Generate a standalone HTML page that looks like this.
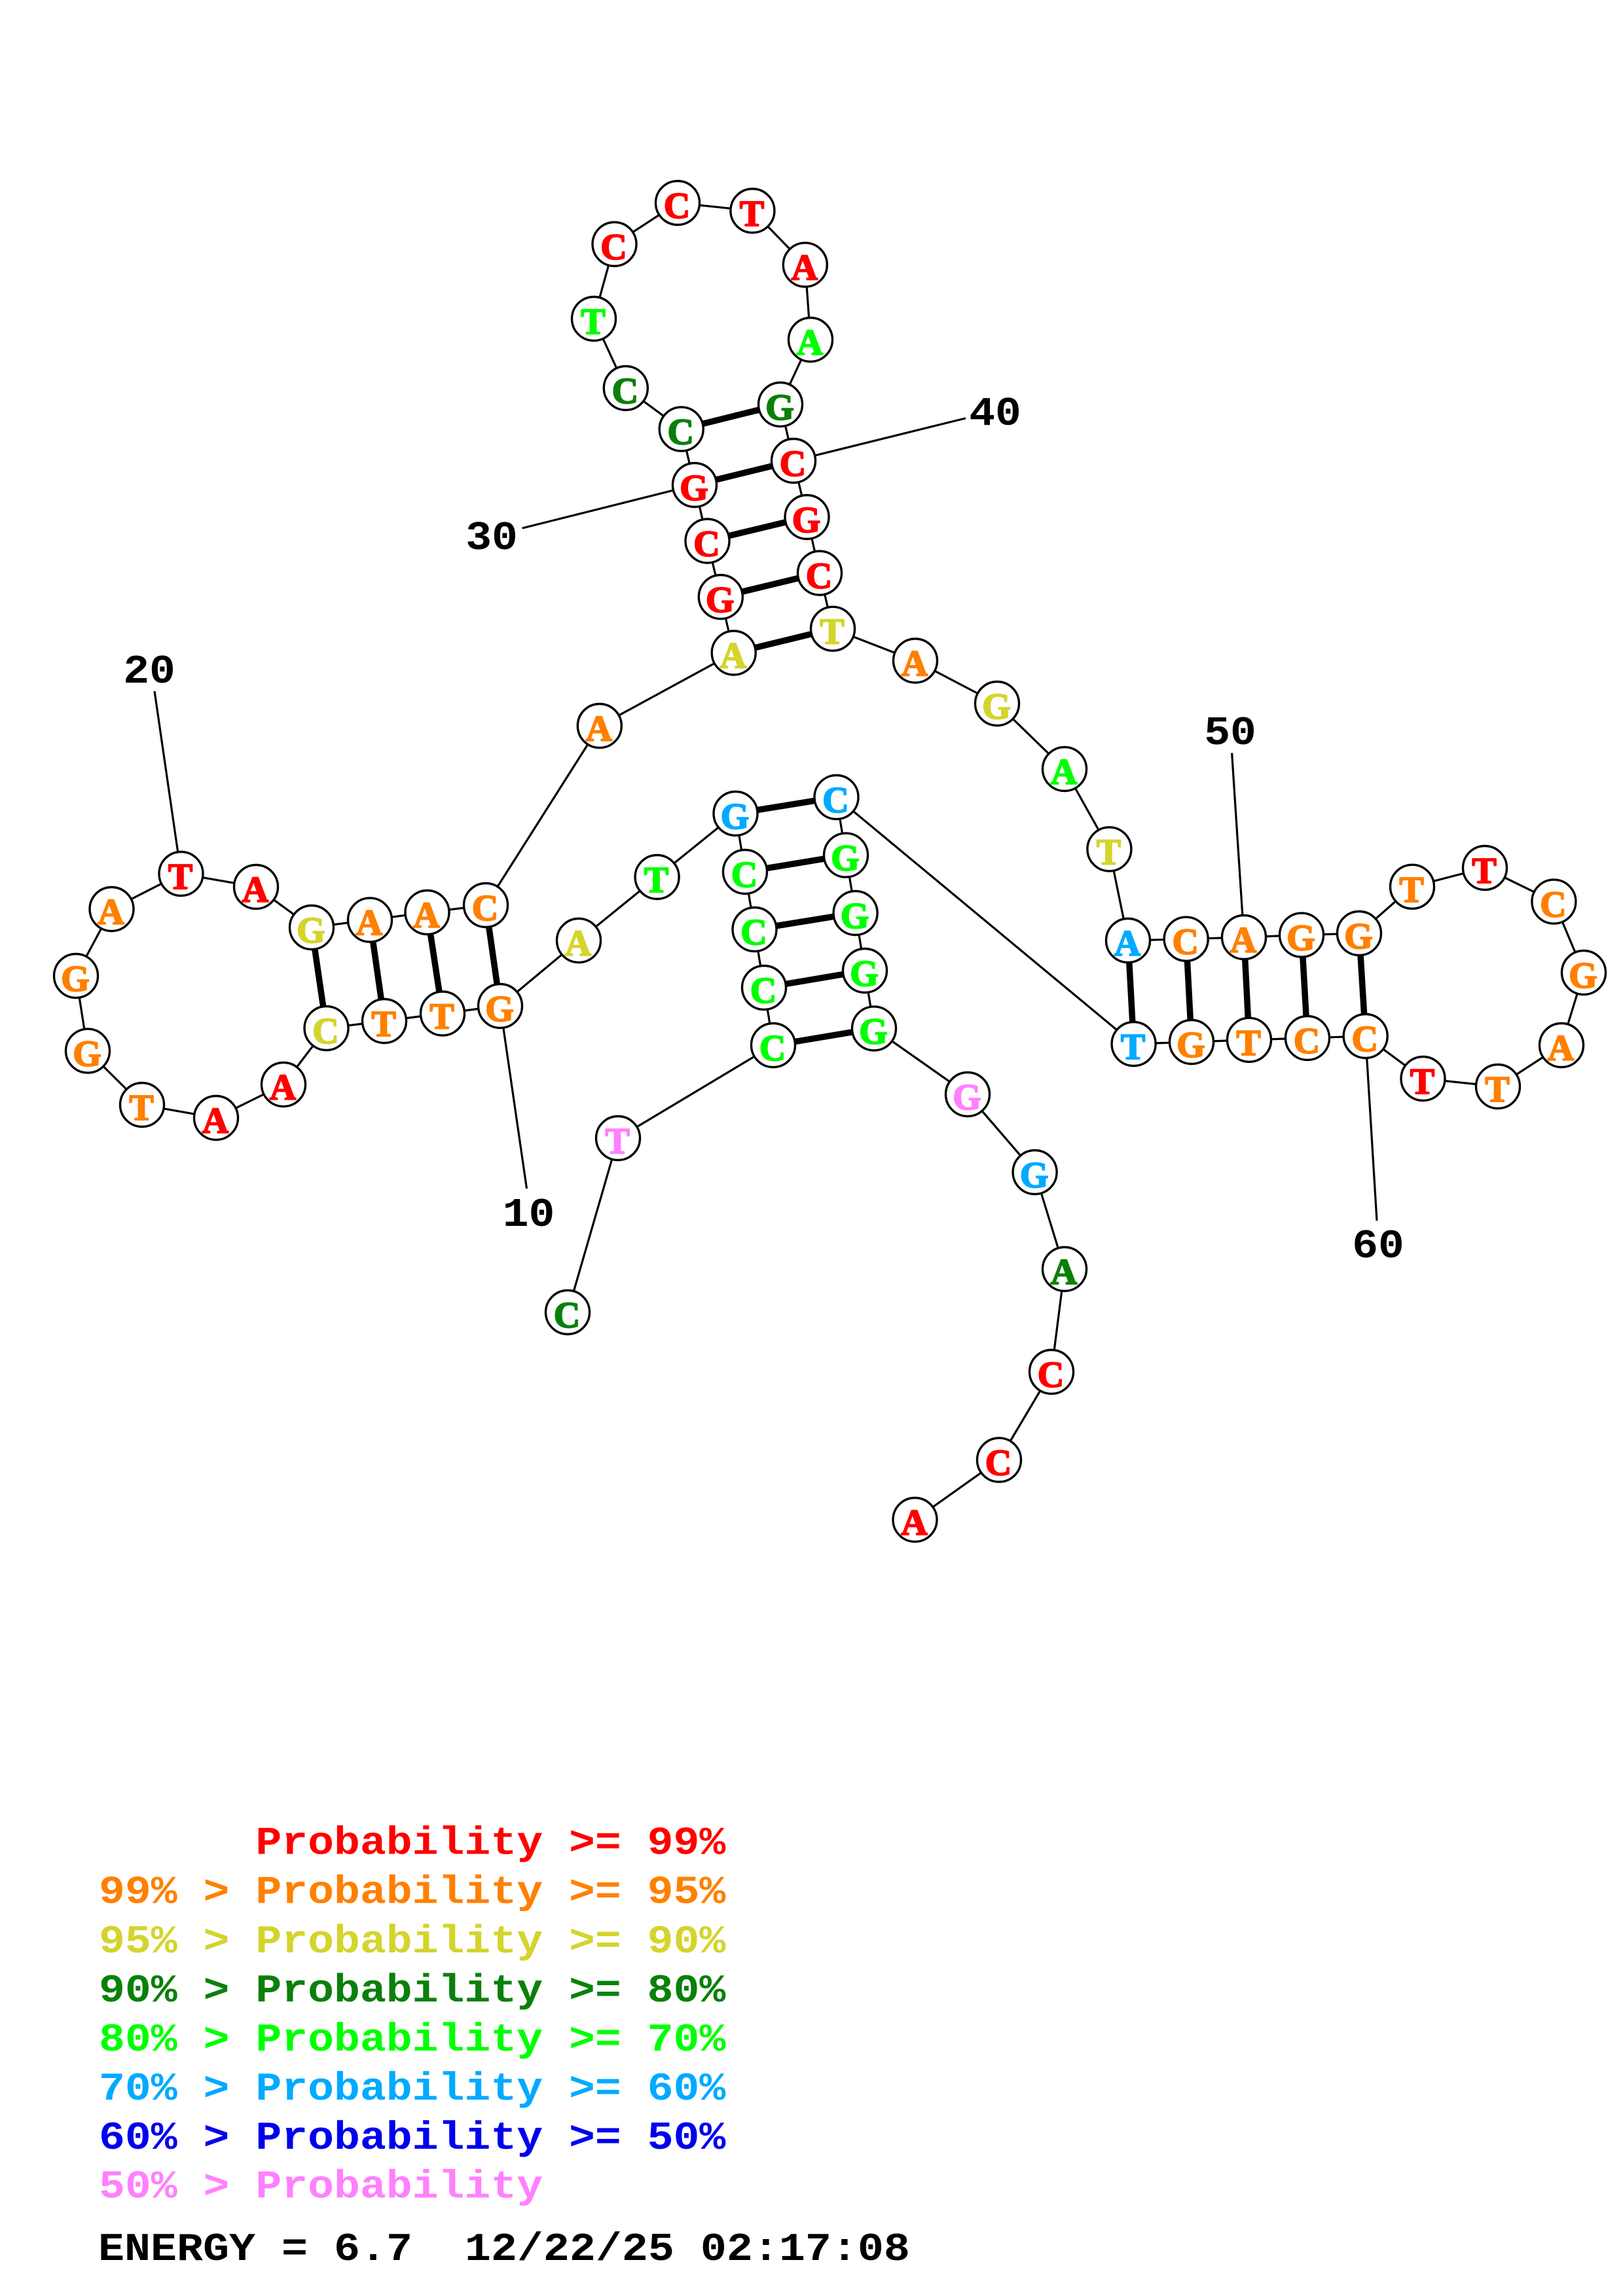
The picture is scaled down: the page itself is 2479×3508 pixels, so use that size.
<!DOCTYPE html>
<html><head><meta charset="utf-8"><style>
html,body{margin:0;padding:0;background:#fff}
svg{display:block}
.n text{font-family:"Liberation Serif",serif;font-weight:bold;font-size:56px;text-anchor:middle;stroke-width:2;stroke-linejoin:round}
.l{font-family:"Liberation Mono",monospace;font-weight:bold;font-size:60px;white-space:pre;stroke-width:0}
.t{font-family:"Liberation Mono",monospace;font-weight:bold;font-size:62px;text-anchor:middle;stroke-width:0}
.r{fill:#ff0000;stroke:#ff0000}.o{fill:#ff8000;stroke:#ff8000}.y{fill:#d4d42c;stroke:#d4d42c}.d{fill:#0a800a;stroke:#0a800a}.g{fill:#00ff00;stroke:#00ff00}.b{fill:#00aaff;stroke:#00aaff}.u{fill:#0000ee;stroke:#0000ee}.p{fill:#ff80ff;stroke:#ff80ff}.k{fill:#000}
</style></head><body>
<svg xmlns="http://www.w3.org/2000/svg" width="2479" height="3508" viewBox="0 0 2479 3508">
<rect width="2479" height="3508" fill="#fff"/>
<polyline fill="none" stroke="#000" stroke-width="3.2" points="867,2005 944,1739 1181,1597 1167,1509 1152.5,1420 1138,1332 1123.5,1243 1003.6,1340 884,1437 764,1537 676,1548.5 587,1560 498.5,1571 433,1657 330,1708 217,1688 134,1605.6 116,1491 170.5,1389 276.5,1335 391,1355 476,1417 565,1405.6 652.5,1394 742,1383 915.8,1109 1120.7,997.5 1100.8,912 1080.5,826.5 1061,741 1040.7,655.6 955.8,593 907,487 938.5,373 1035,310 1149.4,322 1229.8,404.6 1238,519 1192,618 1212,704 1232.5,790 1252,875.5 1272,960.7 1398,1009.5 1523,1075 1626,1175 1694.4,1297.4 1723,1437 1811.7,1434.7 1900,1432 1988,1428.6 2076,1426 2157,1354.8 2268,1326 2373.4,1377.6 2419,1486 2385,1597 2288,1660 2173.5,1648 2085.7,1583 1997,1586 1908,1588.8 1820,1592 1731.6,1595 1277.5,1218 1292,1306.6 1306.6,1395 1321,1483 1335,1571.4 1478,1672 1580.6,1791 1626,1939 1606,2096 1526,2230.6 1397.5,2322"/>
<g stroke="#000" stroke-width="9.5">
<line x1="1181" y1="1597" x2="1335" y2="1571.4"/>
<line x1="1167" y1="1509" x2="1321" y2="1483"/>
<line x1="1152.5" y1="1420" x2="1306.6" y2="1395"/>
<line x1="1138" y1="1332" x2="1292" y2="1306.6"/>
<line x1="1123.5" y1="1243" x2="1277.5" y2="1218"/>
<line x1="764" y1="1537" x2="742" y2="1383"/>
<line x1="676" y1="1548.5" x2="652.5" y2="1394"/>
<line x1="587" y1="1560" x2="565" y2="1405.6"/>
<line x1="498.5" y1="1571" x2="476" y2="1417"/>
<line x1="1120.7" y1="997.5" x2="1272" y2="960.7"/>
<line x1="1100.8" y1="912" x2="1252" y2="875.5"/>
<line x1="1080.5" y1="826.5" x2="1232.5" y2="790"/>
<line x1="1061" y1="741" x2="1212" y2="704"/>
<line x1="1040.7" y1="655.6" x2="1192" y2="618"/>
<line x1="1723" y1="1437" x2="1731.6" y2="1595"/>
<line x1="1811.7" y1="1434.7" x2="1820" y2="1592"/>
<line x1="1900" y1="1432" x2="1908" y2="1588.8"/>
<line x1="1988" y1="1428.6" x2="1997" y2="1586"/>
<line x1="2076" y1="1426" x2="2085.7" y2="1583"/>
</g>
<g stroke="#000" stroke-width="3.2">
<line x1="764" y1="1537" x2="804.5" y2="1816"/>
<line x1="276.5" y1="1335" x2="236" y2="1056"/>
<line x1="1061" y1="741" x2="797.6" y2="807"/>
<line x1="1212" y1="704" x2="1475" y2="639"/>
<line x1="1900" y1="1432" x2="1881.6" y2="1150.5"/>
<line x1="2085.7" y1="1583" x2="2103" y2="1865"/>
</g>
<g fill="#fff" stroke="#000" stroke-width="3.4">
<circle cx="867" cy="2005" r="33.5"/><circle cx="944" cy="1739" r="33.5"/><circle cx="1181" cy="1597" r="33.5"/><circle cx="1167" cy="1509" r="33.5"/><circle cx="1152.5" cy="1420" r="33.5"/><circle cx="1138" cy="1332" r="33.5"/><circle cx="1123.5" cy="1243" r="33.5"/><circle cx="1003.6" cy="1340" r="33.5"/><circle cx="884" cy="1437" r="33.5"/><circle cx="764" cy="1537" r="33.5"/>
<circle cx="676" cy="1548.5" r="33.5"/><circle cx="587" cy="1560" r="33.5"/><circle cx="498.5" cy="1571" r="33.5"/><circle cx="433" cy="1657" r="33.5"/><circle cx="330" cy="1708" r="33.5"/><circle cx="217" cy="1688" r="33.5"/><circle cx="134" cy="1605.6" r="33.5"/><circle cx="116" cy="1491" r="33.5"/><circle cx="170.5" cy="1389" r="33.5"/><circle cx="276.5" cy="1335" r="33.5"/>
<circle cx="391" cy="1355" r="33.5"/><circle cx="476" cy="1417" r="33.5"/><circle cx="565" cy="1405.6" r="33.5"/><circle cx="652.5" cy="1394" r="33.5"/><circle cx="742" cy="1383" r="33.5"/><circle cx="915.8" cy="1109" r="33.5"/><circle cx="1120.7" cy="997.5" r="33.5"/><circle cx="1100.8" cy="912" r="33.5"/><circle cx="1080.5" cy="826.5" r="33.5"/><circle cx="1061" cy="741" r="33.5"/>
<circle cx="1040.7" cy="655.6" r="33.5"/><circle cx="955.8" cy="593" r="33.5"/><circle cx="907" cy="487" r="33.5"/><circle cx="938.5" cy="373" r="33.5"/><circle cx="1035" cy="310" r="33.5"/><circle cx="1149.4" cy="322" r="33.5"/><circle cx="1229.8" cy="404.6" r="33.5"/><circle cx="1238" cy="519" r="33.5"/><circle cx="1192" cy="618" r="33.5"/><circle cx="1212" cy="704" r="33.5"/>
<circle cx="1232.5" cy="790" r="33.5"/><circle cx="1252" cy="875.5" r="33.5"/><circle cx="1272" cy="960.7" r="33.5"/><circle cx="1398" cy="1009.5" r="33.5"/><circle cx="1523" cy="1075" r="33.5"/><circle cx="1626" cy="1175" r="33.5"/><circle cx="1694.4" cy="1297.4" r="33.5"/><circle cx="1723" cy="1437" r="33.5"/><circle cx="1811.7" cy="1434.7" r="33.5"/><circle cx="1900" cy="1432" r="33.5"/>
<circle cx="1988" cy="1428.6" r="33.5"/><circle cx="2076" cy="1426" r="33.5"/><circle cx="2157" cy="1354.8" r="33.5"/><circle cx="2268" cy="1326" r="33.5"/><circle cx="2373.4" cy="1377.6" r="33.5"/><circle cx="2419" cy="1486" r="33.5"/><circle cx="2385" cy="1597" r="33.5"/><circle cx="2288" cy="1660" r="33.5"/><circle cx="2173.5" cy="1648" r="33.5"/><circle cx="2085.7" cy="1583" r="33.5"/>
<circle cx="1997" cy="1586" r="33.5"/><circle cx="1908" cy="1588.8" r="33.5"/><circle cx="1820" cy="1592" r="33.5"/><circle cx="1731.6" cy="1595" r="33.5"/><circle cx="1277.5" cy="1218" r="33.5"/><circle cx="1292" cy="1306.6" r="33.5"/><circle cx="1306.6" cy="1395" r="33.5"/><circle cx="1321" cy="1483" r="33.5"/><circle cx="1335" cy="1571.4" r="33.5"/><circle cx="1478" cy="1672" r="33.5"/>
<circle cx="1580.6" cy="1791" r="33.5"/><circle cx="1626" cy="1939" r="33.5"/><circle cx="1606" cy="2096" r="33.5"/><circle cx="1526" cy="2230.6" r="33.5"/><circle cx="1397.5" cy="2322" r="33.5"/>
</g>
<g class="n">
<text x="866" y="2028" class="d">C</text><text x="943" y="1762" class="p">T</text><text x="1180" y="1620" class="g">C</text><text x="1166" y="1532" class="g">C</text><text x="1151.5" y="1443" class="g">C</text><text x="1137" y="1355" class="g">C</text><text x="1122.5" y="1266" class="b">G</text><text x="1002.6" y="1363" class="g">T</text><text x="883" y="1460" class="y">A</text><text x="763" y="1560" class="o">G</text>
<text x="675" y="1571.5" class="o">T</text><text x="586" y="1583" class="o">T</text><text x="497.5" y="1594" class="y">C</text><text x="432" y="1680" class="r">A</text><text x="329" y="1731" class="r">A</text><text x="216" y="1711" class="o">T</text><text x="133" y="1628.6" class="o">G</text><text x="115" y="1514" class="o">G</text><text x="169.5" y="1412" class="o">A</text><text x="275.5" y="1358" class="r">T</text>
<text x="390" y="1378" class="r">A</text><text x="475" y="1440" class="y">G</text><text x="564" y="1428.6" class="o">A</text><text x="651.5" y="1417" class="o">A</text><text x="741" y="1406" class="o">C</text><text x="914.8" y="1132" class="o">A</text><text x="1119.7" y="1020.5" class="y">A</text><text x="1099.8" y="935" class="r">G</text><text x="1079.5" y="849.5" class="r">C</text><text x="1060" y="764" class="r">G</text>
<text x="1039.7" y="678.6" class="d">C</text><text x="954.8" y="616" class="d">C</text><text x="906" y="510" class="g">T</text><text x="937.5" y="396" class="r">C</text><text x="1034" y="333" class="r">C</text><text x="1148.4" y="345" class="r">T</text><text x="1228.8" y="427.6" class="r">A</text><text x="1237" y="542" class="g">A</text><text x="1191" y="641" class="d">G</text><text x="1211" y="727" class="r">C</text>
<text x="1231.5" y="813" class="r">G</text><text x="1251" y="898.5" class="r">C</text><text x="1271" y="983.7" class="y">T</text><text x="1397" y="1032.5" class="o">A</text><text x="1522" y="1098" class="y">G</text><text x="1625" y="1198" class="g">A</text><text x="1693.4" y="1320.4" class="y">T</text><text x="1722" y="1460" class="b">A</text><text x="1810.7" y="1457.7" class="o">C</text><text x="1899" y="1455" class="o">A</text>
<text x="1987" y="1451.6" class="o">G</text><text x="2075" y="1449" class="o">G</text><text x="2156" y="1377.8" class="o">T</text><text x="2267" y="1349" class="r">T</text><text x="2372.4" y="1400.6" class="o">C</text><text x="2418" y="1509" class="o">G</text><text x="2384" y="1620" class="o">A</text><text x="2287" y="1683" class="o">T</text><text x="2172.5" y="1671" class="r">T</text><text x="2084.7" y="1606" class="o">C</text>
<text x="1996" y="1609" class="o">C</text><text x="1907" y="1611.8" class="o">T</text><text x="1819" y="1615" class="o">G</text><text x="1730.6" y="1618" class="b">T</text><text x="1276.5" y="1241" class="b">C</text><text x="1291" y="1329.6" class="g">G</text><text x="1305.6" y="1418" class="g">G</text><text x="1320" y="1506" class="g">G</text><text x="1334" y="1594.4" class="g">G</text><text x="1477" y="1695" class="p">G</text>
<text x="1579.6" y="1814" class="b">G</text><text x="1625" y="1962" class="d">A</text><text x="1605" y="2119" class="r">C</text><text x="1525" y="2253.6" class="r">C</text><text x="1396.5" y="2345" class="r">A</text>
</g>
<g class="k">
<text class="t" transform="translate(807.5,1873) scale(1.07,1)">10</text>
<text class="t" transform="translate(228,1043) scale(1.07,1)">20</text>
<text class="t" transform="translate(751,839) scale(1.07,1)">30</text>
<text class="t" transform="translate(1520,649) scale(1.07,1)">40</text>
<text class="t" transform="translate(1879,1137) scale(1.07,1)">50</text>
<text class="t" transform="translate(2105,1921) scale(1.07,1)">60</text>
</g>
<text class="l r" xml:space="preserve" transform="translate(151,2832.5) scale(1.108,1)">      Probability &gt;= 99%</text>
<text class="l o" xml:space="preserve" transform="translate(151,2907.7) scale(1.108,1)">99% &gt; Probability &gt;= 95%</text>
<text class="l y" xml:space="preserve" transform="translate(151,2983) scale(1.108,1)">95% &gt; Probability &gt;= 90%</text>
<text class="l d" xml:space="preserve" transform="translate(151,3058) scale(1.108,1)">90% &gt; Probability &gt;= 80%</text>
<text class="l g" xml:space="preserve" transform="translate(151,3133) scale(1.108,1)">80% &gt; Probability &gt;= 70%</text>
<text class="l b" xml:space="preserve" transform="translate(151,3208) scale(1.108,1)">70% &gt; Probability &gt;= 60%</text>
<text class="l u" xml:space="preserve" transform="translate(151,3283) scale(1.108,1)">60% &gt; Probability &gt;= 50%</text>
<text class="l p" xml:space="preserve" transform="translate(151,3357.6) scale(1.108,1)">50% &gt; Probability</text>
<text class="l k" xml:space="preserve" transform="translate(150,3453) scale(1.111,1)">ENERGY = 6.7  12/22/25 02:17:08</text>
</svg>
</body></html>
